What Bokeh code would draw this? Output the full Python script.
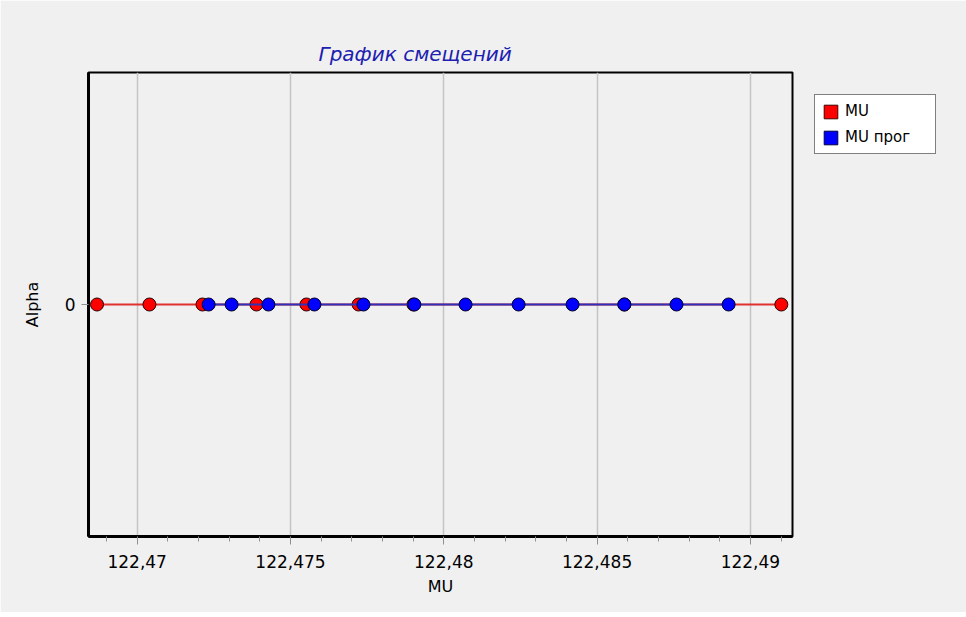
from bokeh.plotting import figure
from bokeh.models import (Range1d, FixedTicker, Legend, LegendItem, ColumnDataSource)
from bokeh.embed import file_html
from bokeh.resources import INLINE

# ---- data ----
mu_x = [122.46869, 122.47040, 122.47213, 122.47389, 122.47552, 122.47722,
        122.47901, 122.48589, 122.49101]
mu_y = [0, 0, 0, 0, 0, 0, 0, 0, 0]

mu_prog_x = [122.47233, 122.47308, 122.47428, 122.47578, 122.47738, 122.47904,
             122.48071, 122.48244, 122.48420, 122.48589, 122.48759, 122.48929]
mu_prog_y = [0, 0, 0, 0, 0, 0, 0, 0, 0, 0, 0, 0]

x_ticks = [122.47, 122.475, 122.48, 122.485, 122.49]
x_tick_labels = ["122,47", "122,475", "122,48", "122,485", "122,49"]
x_minor_ticks = [122.469, 122.471, 122.472, 122.473, 122.474, 122.476, 122.477,
                 122.478, 122.479, 122.481, 122.482, 122.483, 122.484, 122.486,
                 122.487, 122.488, 122.489, 122.491]
y_ticks = [0]
y_tick_labels = ["0"]

title_text = "График смещений"
x_label = "MU"
y_label = "Alpha"
series_names = ["MU", "MU прог"]

FONT = "DejaVu Sans"
BG = "#f0f0f0"

p = figure(frame_width=704, frame_height=464, output_backend="svg",
           toolbar_location=None,
           x_range=Range1d(122.468412, 122.491374), y_range=Range1d(-1, 1),
           background_fill_color=BG, border_fill_color=BG,
           min_border_left=88, min_border_right=168, min_border_top=72,
           min_border_bottom=76)

p.title.text = title_text
p.title.align = "left"
p.title.offset = 230
p.title.text_font = FONT
p.title.text_font_size = "20px"
p.title.text_font_style = "italic"
p.title.text_color = "#2020b0"
p.title.standoff = 14

p.outline_line_color = "black"
p.outline_line_width = 2
p.outline_line_alpha = 1

# axes
p.xaxis.ticker = FixedTicker(ticks=x_ticks, minor_ticks=x_minor_ticks)
p.xaxis.major_label_overrides = dict(zip(x_ticks, x_tick_labels))
p.xaxis.axis_label = x_label
p.yaxis.ticker = FixedTicker(ticks=y_ticks, minor_ticks=[])
p.yaxis.major_label_overrides = dict(zip(y_ticks, y_tick_labels))
p.yaxis.axis_label = y_label

for ax in (p.xaxis[0], p.yaxis[0]):
    ax.axis_line_color = "black"
    ax.axis_line_width = 3
    ax.major_tick_line_color = "#909090"
    ax.minor_tick_line_color = "#909090"
    ax.major_tick_in = 0
    ax.minor_tick_in = 0
    ax.major_label_text_font = FONT
    ax.major_label_text_font_size = "17px"
    ax.major_label_text_color = "black"
    ax.axis_label_text_font = FONT
    ax.axis_label_text_font_size = "16px"
    ax.axis_label_text_font_style = "normal"
    ax.axis_label_text_color = "black"

p.xaxis.major_tick_out = 8
p.xaxis.minor_tick_out = 5
p.xaxis.major_label_standoff = 10
p.xaxis.axis_label_standoff = 6
p.yaxis.major_tick_out = 7
p.yaxis.minor_tick_out = 0
p.yaxis.major_label_standoff = 6
p.yaxis.axis_label_standoff = 20

p.xgrid.grid_line_color = "#c4c4c4"
p.xgrid.grid_line_width = 1.5
p.ygrid.grid_line_color = None

src_mu = ColumnDataSource(dict(x=mu_x, y=mu_y))
src_prog = ColumnDataSource(dict(x=mu_prog_x, y=mu_prog_y))

# zero-size quads used only as legend swatches (hidden beneath the markers)
leg_red = p.quad(left="x", right="x", top="y", bottom="y", source=src_mu,
                 fill_color="#ff0000", line_color="#400000", line_width=1)
leg_blue = p.quad(left="x", right="x", top="y", bottom="y", source=src_prog,
                  fill_color="#0000ff", line_color="#000040", line_width=1)

p.line("x", "y", source=src_mu, line_color="#e03030", line_width=2)
p.scatter("x", "y", source=src_mu, marker="circle", size=13,
          fill_color="#ff0000", line_color="#2a0000", line_width=1)
p.line("x", "y", source=src_prog, line_color="#3030b8", line_width=2)
p.scatter("x", "y", source=src_prog, marker="circle", size=13,
          fill_color="#0000ff", line_color="#00002a", line_width=1)

lg = Legend(items=[LegendItem(label=series_names[0], renderers=[leg_red]),
                   LegendItem(label=series_names[1], renderers=[leg_blue])],
            location="top_left")
lg.glyph_width = 17
lg.glyph_height = 17
lg.label_height = 17
lg.label_text_font = FONT
lg.label_text_font_size = "15px"
lg.label_text_color = "black"
lg.spacing = 8
lg.padding = 7
lg.margin = 22
lg.label_standoff = 6
lg.label_width = 83
lg.border_line_color = "black"
lg.border_line_width = 1
lg.background_fill_color = "white"
lg.background_fill_alpha = 1
p.add_layout(lg, "right")

open("out.html", "w").write(file_html(p, INLINE))
